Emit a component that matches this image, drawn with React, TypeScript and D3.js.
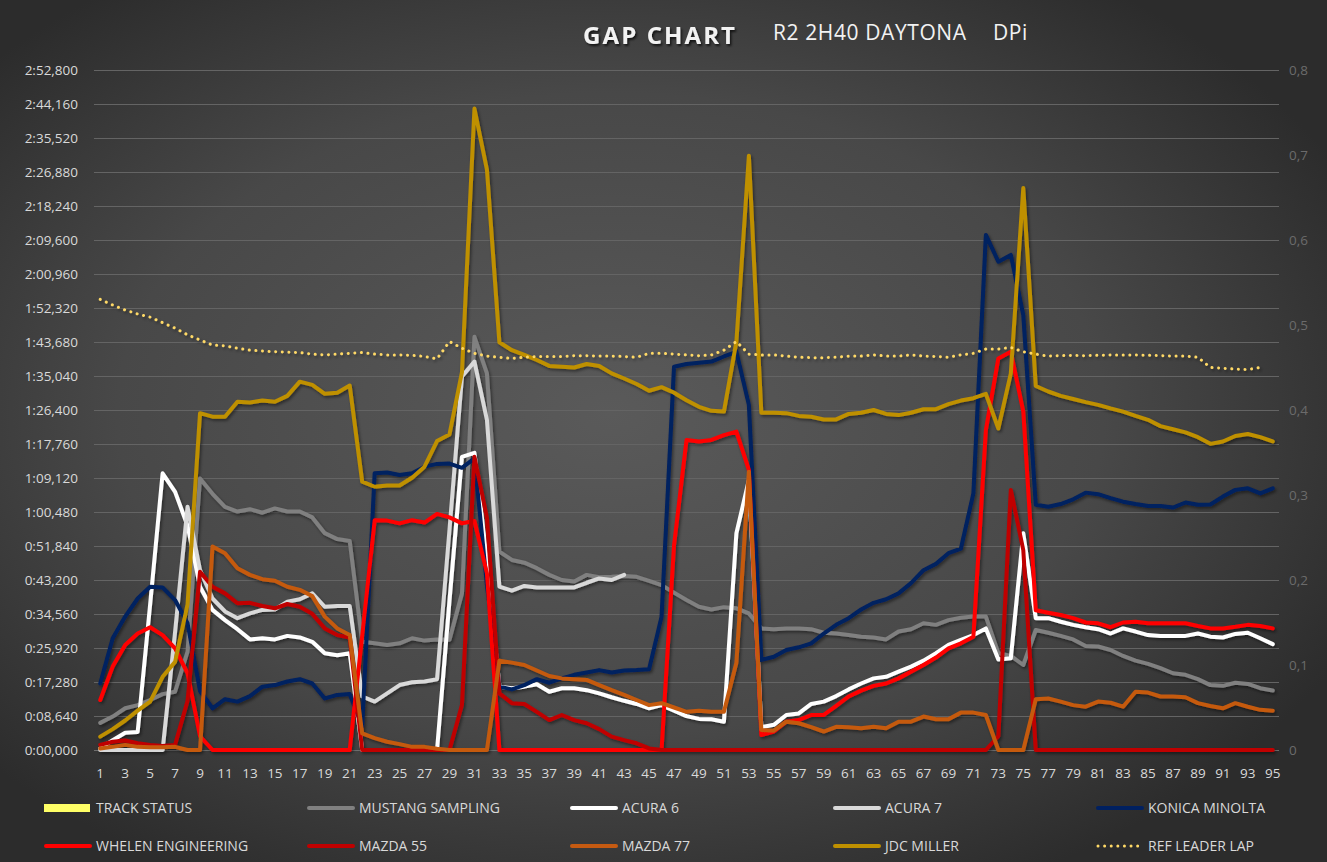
import * as d3 from "d3";
import React from "react";

// laps 1..95
const laps = d3.range(1, 96);

// gaps in seconds
const mustang = [6.9, 8.5, 10.6, 11.4, 12.7, 14.2, 14.8, 25, 69.0, 65.1, 61.8, 60.6, 61.2, 60.3, 61.4, 60.6, 60.6, 59.1, 55.1, 53.6, 53.1, 27.5, 27.1, 26.7, 27.1, 28.4, 27.8, 28.1, 28.0, 39.8, 105.0, 95.7, 50.4, 48.3, 47.6, 46.2, 44.5, 43.2, 42.8, 44.5, 43.9, 44.0, 44.2, 44.0, 43.0, 41.9, 40.0, 38.1, 36.4, 35.7, 36.3, 36.0, 34.7, 30.9, 30.7, 30.9, 30.9, 30.7, 29.8, 29.6, 29.2, 28.8, 28.6, 28.1, 30.1, 30.7, 32.2, 31.8, 33.0, 33.6, 33.9, 33.9, 24.6, 23.9, 21.6, 30.5, 29.8, 29.0, 28.1, 26.4, 26.3, 25.4, 23.9, 22.7, 21.9, 20.8, 19.5, 19.1, 18.0, 16.5, 16.3, 17.1, 16.8, 15.7, 15.1];
const acura6 = [0.4, 2.5, 4.4, 4.6, 37, 70.3, 65.6, 57, 41.5, 35.6, 33.0, 30.7, 28.1, 28.4, 28.1, 29.0, 28.6, 27.5, 24.6, 24.1, 24.6, 0, 0, 0, 0, 0, 0, 0, 38, 74.5, 75.5, 48, 16.1, 15.7, 16.1, 16.7, 14.8, 15.7, 15.7, 15.2, 14.4, 13.4, 12.5, 11.7, 10.6, 11.4, 10.0, 8.6, 7.9, 7.8, 7.2, 55.1, 68.6, 5.8, 6.4, 8.9, 9.3, 11.7, 12.3, 13.7, 15.4, 16.9, 18.2, 18.6, 19.9, 21.2, 22.7, 24.6, 26.7, 28.0, 29.2, 30.9, 23.0, 23.3, 55.1, 33.5, 33.5, 32.6, 31.8, 31.2, 30.7, 29.6, 30.9, 30.1, 29.2, 29.0, 29.0, 29.0, 29.6, 28.8, 28.6, 29.5, 29.8, 28.4, 26.9];
const acura7 = [0, 0, 0, 0, 0, 0, 30, 61.8, 45.7, 38.5, 35.2, 33.5, 34.7, 35.6, 35.7, 37.7, 38.3, 39.8, 36.4, 36.6, 36.6, 13.6, 12.3, 14.4, 16.5, 17.2, 17.4, 18.0, 56, 94.9, 98.7, 83.9, 41.5, 40.5, 41.7, 41.3, 41.3, 41.3, 41.3, 42.5, 43.6, 43.2, 44.5];
const konica = [16.9, 28.4, 33.9, 38.5, 41.5, 41.3, 38.1, 32.2, 15, 10.6, 12.9, 12.3, 13.7, 16.1, 16.5, 17.4, 18.0, 16.9, 13.1, 14.0, 14.2, 6, 70.3, 70.5, 69.9, 70.3, 72.0, 72.7, 72.8, 71.7, 74.1, 42, 16.1, 15.4, 16.5, 18.0, 17.1, 18.2, 19.1, 19.7, 20.3, 19.7, 20.2, 20.3, 20.5, 33.9, 97.4, 98.1, 98.4, 98.7, 100.0, 101.2, 87.7, 22.9, 23.7, 25.4, 26.1, 27.1, 29.6, 31.8, 33.5, 35.7, 37.4, 38.3, 39.8, 42.4, 45.7, 47.3, 50.0, 51.2, 65.2, 130.9, 124.1, 125.8, 110.5, 62.3, 61.8, 62.5, 63.7, 65.4, 65.0, 64.0, 63.1, 62.5, 62.0, 62.0, 61.6, 62.9, 62.3, 62.4, 64.4, 66.1, 66.5, 65.2, 66.5];
const whelen = [12.7, 21.2, 26.7, 29.6, 31.2, 29.2, 25.8, 19.5, 3.5, 0, 0, 0, 0, 0, 0, 0, 0, 0, 0, 0, 0, 29, 58.4, 58.3, 57.6, 58.4, 57.8, 60.0, 59.1, 57.6, 58.2, 44.9, 0, 0, 0, 0, 0, 0, 0, 0, 0, 0, 0, 0, 0, 0, 52, 78.8, 78.4, 78.8, 80.0, 80.9, 71.2, 3.8, 4.7, 7.2, 7.6, 8.9, 8.9, 11.2, 13.6, 15.1, 16.3, 16.9, 18.2, 19.9, 21.6, 23.5, 25.8, 27.1, 28.8, 81.3, 99.5, 101.2, 86.0, 35.5, 34.9, 34.3, 33.5, 32.4, 32.2, 31.2, 32.4, 32.6, 32.2, 32.2, 32.2, 32.2, 31.5, 30.9, 30.9, 31.3, 31.8, 31.5, 30.9];
const mazda55 = [1.3, 2.1, 2.4, 1.7, 1.3, 1.0, 1.3, 12.5, 45.3, 41.5, 39.8, 37.3, 37.4, 36.6, 36.0, 37.1, 36.4, 34.6, 30.9, 29.2, 28.6, 0, 0, 0, 0, 0, 0, 0, 0, 11.5, 74.5, 59, 14.4, 11.9, 11.7, 9.7, 7.6, 8.9, 7.6, 6.8, 5.3, 3.4, 2.5, 1.7, 0.4, 0, 0, 0, 0, 0, 0, 0, 0, 0, 0, 0, 0, 0, 0, 0, 0, 0, 0, 0, 0, 0, 0, 0, 0, 0, 0, 0, 3.5, 66.1, 50.8, 0, 0, 0, 0, 0, 0, 0, 0, 0, 0, 0, 0, 0, 0, 0, 0, 0, 0, 0, 0];
const mazda77 = [0.4, 0.8, 1.3, 0.8, 0.7, 0.7, 0.8, 0, 0, 51.7, 50.0, 46.2, 44.5, 43.4, 43.0, 41.5, 40.7, 39.1, 33.9, 30.9, 29.2, 4.2, 3.0, 2.1, 1.5, 0.8, 0.8, 0.3, 0, 0, 0, 0, 22.7, 22.2, 21.6, 20.2, 18.8, 18.2, 18.0, 17.8, 16.5, 15.2, 14.0, 12.7, 11.4, 11.9, 10.8, 9.7, 10.0, 9.7, 9.7, 22.2, 70.7, 5.1, 4.9, 7.2, 6.8, 5.8, 4.7, 5.9, 5.8, 5.5, 5.9, 5.5, 7.2, 7.2, 8.5, 7.8, 7.8, 9.5, 9.5, 8.9, 0, 0, 0, 12.9, 13.1, 12.3, 11.4, 11.0, 12.3, 12.0, 11.0, 14.8, 14.6, 13.6, 13.6, 13.4, 11.9, 11.2, 10.6, 11.9, 11.0, 10.2, 10.0];
const jdc = [3.4, 5.3, 7.5, 10.0, 12.3, 18.6, 22.4, 37, 85.6, 84.7, 84.7, 88.5, 88.3, 88.8, 88.5, 90.0, 93.6, 92.8, 90.5, 90.8, 92.6, 68.2, 66.9, 67.2, 67.2, 69.2, 72.0, 78.5, 80.2, 96.0, 163.0, 147.5, 103.6, 101.6, 100.4, 99.1, 97.6, 97.4, 97.2, 98.1, 97.6, 95.7, 94.4, 93.0, 91.3, 92.2, 90.8, 88.9, 87.2, 86.2, 86.0, 103.8, 151.0, 85.7, 85.7, 85.6, 84.9, 84.7, 84.0, 84.0, 85.4, 85.7, 86.4, 85.4, 85.1, 85.7, 86.6, 86.6, 87.9, 88.8, 89.4, 90.5, 81.7, 95.7, 142.8, 92.5, 91.1, 90.0, 89.2, 88.4, 87.7, 86.8, 86.0, 84.9, 83.9, 82.3, 81.5, 80.7, 79.5, 77.8, 78.4, 79.8, 80.3, 79.5, 78.4];
const refLeaderLap = [114.5, 113.1, 111.8, 110.8, 110.0, 108.6, 107.2, 105.5, 104.2, 102.9, 102.7, 102.1, 101.6, 101.4, 101.2, 101.1, 101.0, 100.6, 100.4, 100.6, 100.8, 101.0, 100.6, 100.4, 100.4, 100.3, 100.0, 99.4, 103.8, 102.1, 100.8, 100.1, 99.8, 99.5, 99.8, 100.0, 100.0, 100.0, 100.2, 100.2, 100.1, 100.1, 100.0, 99.8, 100.8, 100.8, 100.6, 100.4, 100.2, 100.4, 101.6, 103.8, 100.6, 100.4, 100.4, 100.1, 99.8, 99.7, 99.7, 99.8, 100.1, 100.1, 100.4, 100.1, 100.1, 100.4, 100.1, 100.0, 99.8, 100.4, 100.8, 101.9, 101.9, 102.3, 101.2, 100.6, 100.1, 100.2, 100.3, 100.2, 100.3, 100.4, 100.4, 100.4, 100.3, 100.2, 100.1, 100.1, 99.8, 97.2, 97.0, 96.8, 96.7, 97.2];
// secondary axis, no caution laps shown
const trackStatus = laps.map(() => 0);

const leftTicks = d3.range(0, 21).map((i) => i * 8.64);
const rightTicks = d3.range(0, 9).map((i) => i / 10);

const series = [
    { name: "MUSTANG SAMPLING", values: mustang, color: "#808080" },
    { name: "ACURA 6", values: acura6, color: "#ffffff" },
    { name: "ACURA 7", values: acura7, color: "#d9d9d9" },
    { name: "KONICA MINOLTA", values: konica, color: "#002060" },
    { name: "WHELEN ENGINEERING", values: whelen, color: "#ff0000" },
    { name: "MAZDA 55", values: mazda55, color: "#c00000" },
    { name: "MAZDA 77", values: mazda77, color: "#c55a11" },
    { name: "JDC MILLER", values: jdc, color: "#bf9000" },
];

const legendItems = [
    { name: "TRACK STATUS", color: "#ffff66", kind: "box" },
    { name: "MUSTANG SAMPLING", color: "#808080", kind: "line" },
    { name: "ACURA 6", color: "#ffffff", kind: "line" },
    { name: "ACURA 7", color: "#d9d9d9", kind: "line" },
    { name: "KONICA MINOLTA", color: "#002060", kind: "line" },
    { name: "WHELEN ENGINEERING", color: "#ff0000", kind: "line" },
    { name: "MAZDA 55", color: "#c00000", kind: "line" },
    { name: "MAZDA 77", color: "#c55a11", kind: "line" },
    { name: "JDC MILLER", color: "#bf9000", kind: "line" },
    { name: "REF LEADER LAP", color: "#ffd966", kind: "dots" },
];

const W = 1327;
const H = 862;
const FONT = "'Open Sans', 'DejaVu Sans', sans-serif";

function fmtGap(v: number) {
    const ms = Math.round(v * 1000);
    const m = Math.floor(ms / 60000);
    const s = Math.floor((ms % 60000) / 1000);
    const t = ms % 1000;
    return `${m}:${String(s).padStart(2, "0")},${String(t).padStart(3, "0")}`;
}

export default function App() {
    const x = d3.scalePoint<number>().domain(laps).range([94, 1279]).padding(0.5);
    const y = d3.scaleLinear().domain([0, 172.8]).range([750, 70]);
    const y2 = d3.scaleLinear().domain([0, 0.8]).range([750, 70]);
    const step = x.step();

    const line = d3.line<number | null>()
        .defined((d) => d !== null && d !== undefined)
        .x((_, i) => x(laps[i]) as number)
        .y((d) => y(d as number));

    return (
        <svg width={W} height={H} style={{ position: "absolute", left: 0, top: 0 }}>
            <defs>
                <radialGradient id="bg" cx="0.46" cy="0.48" r="0.62">
                    <stop offset="0" stopColor="#5a5a5a" />
                    <stop offset="0.6" stopColor="#484848" />
                    <stop offset="1" stopColor="#2c2c2c" />
                </radialGradient>
                <filter id="shadow" x="-5%" y="-5%" width="110%" height="110%">
                    <feDropShadow dx="1.5" dy="2" stdDeviation="1.5" floodColor="#000" floodOpacity="0.45" />
                </filter>
                <filter id="tshadow">
                    <feDropShadow dx="1.5" dy="2" stdDeviation="1.2" floodColor="#000" floodOpacity="0.7" />
                </filter>
            </defs>
            <rect width={W} height={H} fill="url(#bg)" />

            {/* title */}
            <text x={583} y={44} fill="#f2f2f2" fontFamily={FONT} fontWeight={700} fontSize={24}
                letterSpacing={2.1} filter="url(#tshadow)">GAP CHART</text>
            <text x={773} y={40} fill="#f2f2f2" fontFamily={FONT} fontSize={21} letterSpacing={0.6}>R2 2H40 DAYTONA</text>
            <text x={993} y={40} fill="#f2f2f2" fontFamily={FONT} fontSize={21} letterSpacing={0.6}>DPi</text>

            {/* grid */}
            <g>
                {leftTicks.map((t) => (
                    <line key={t} x1={94} x2={1279} y1={Math.round(y(t)) + 0.5} y2={Math.round(y(t)) + 0.5}
                        stroke={t === 0 ? "#6e6e6e" : "#646464"} strokeWidth={1} />
                ))}
            </g>
            <g fontFamily={FONT} fontSize={13.5} fill="#d9d9d9">
                {leftTicks.map((t) => (
                    <text key={t} x={78} y={y(t) + 5} textAnchor="end">{fmtGap(t)}</text>
                ))}
            </g>
            <g fontFamily={FONT} fontSize={13.5} fill="#6b6b6b">
                {rightTicks.map((t) => (
                    <text key={t} x={1289} y={y2(t) + 5}>{t === 0 ? "0" : String(t).replace(".", ",")}</text>
                ))}
            </g>
            <g fontFamily={FONT} fontSize={13.5} fill="#d9d9d9">
                {laps.filter((l) => l % 2 === 1).map((l) => (
                    <text key={l} x={x(l)} y={778} textAnchor="middle">{l}</text>
                ))}
            </g>

            {/* track status on secondary axis */}
            <g fill="#ffff66">
                {trackStatus.map((v, i) => (
                    <rect key={i} x={(x(laps[i]) as number) - step / 2} width={step}
                        y={y2(v)} height={y2(0) - y2(v)} />
                ))}
            </g>

            <g filter="url(#shadow)" fill="none" strokeLinejoin="round" strokeLinecap="round">
                {series.map((s) => (
                    <path key={s.name} d={line(s.values) || ""} stroke={s.color} strokeWidth={4} />
                ))}
                <path d={line(refLeaderLap) || ""} stroke="#ffd966" strokeWidth={3}
                    strokeDasharray="0.01 6.6" />
            </g>

            {/* legend */}
            <g fontFamily={FONT} fontSize={14} fill="#d9d9d9">
                {legendItems.map((it, i) => {
                    const col = i % 5;
                    const row = Math.floor(i / 5);
                    const lx = 44 + col * 263;
                    const ly = 808 + row * 38;
                    return (
                        <g key={it.name}>
                            {it.kind === "box" && <rect x={lx} y={ly - 4} width={46} height={8} fill={it.color} />}
                            {it.kind === "line" && (
                                <line x1={lx + 2} x2={lx + 46} y1={ly} y2={ly} stroke={it.color}
                                    strokeWidth={4} strokeLinecap="round" />
                            )}
                            {it.kind === "dots" && (
                                <line x1={lx + 2} x2={lx + 46} y1={ly} y2={ly} stroke={it.color}
                                    strokeWidth={3} strokeLinecap="round" strokeDasharray="0.01 6.6" />
                            )}
                            <text x={lx + 52} y={ly + 5}>{it.name}</text>
                        </g>
                    );
                })}
            </g>
        </svg>
    );
}
